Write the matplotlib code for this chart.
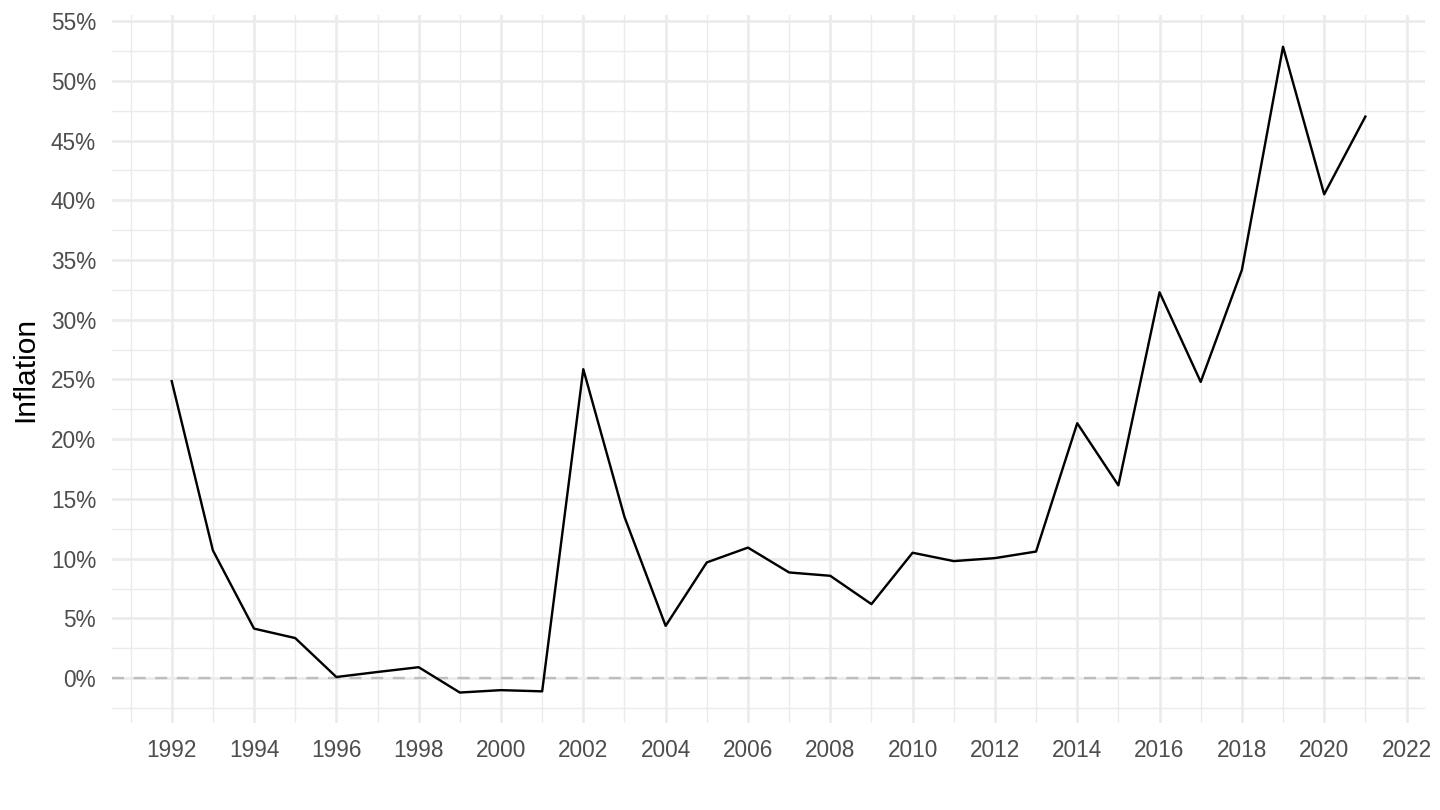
import matplotlib
matplotlib.use("Agg")
import matplotlib.pyplot as plt
from matplotlib.ticker import MultipleLocator, FuncFormatter

# annual inflation, percent
years = [1992, 1993, 1994, 1995, 1996, 1997, 1998, 1999, 2000, 2001,
         2002, 2003, 2004, 2005, 2006, 2007, 2008, 2009, 2010, 2011,
         2012, 2013, 2014, 2015, 2016, 2017, 2018, 2019, 2020, 2021]
inflation = [24.86, 10.7, 4.15, 3.36, 0.1, 0.52, 0.92, -1.2, -1.0, -1.1,
             25.86, 13.5, 4.38, 9.69, 10.93, 8.85, 8.57, 6.2, 10.5, 9.8,
             10.05, 10.6, 21.34, 16.14, 32.3, 24.8, 34.16, 52.85, 40.5, 47.0]

plt.rcParams['font.family'] = ['Liberation Sans', 'DejaVu Sans']

fig = plt.figure(figsize=(10, 5.625), dpi=144)
ax = fig.add_axes([0.0778, 0.1074, 0.9118, 0.874])

grid_col = '#EBEBEB'
ax.xaxis.set_major_locator(MultipleLocator(2))
ax.xaxis.set_minor_locator(MultipleLocator(1))
ax.yaxis.set_major_locator(MultipleLocator(5))
ax.yaxis.set_minor_locator(MultipleLocator(2.5))
ax.grid(which='major', color=grid_col, linewidth=1.3)
ax.grid(which='minor', color=grid_col, linewidth=0.7)
ax.set_axisbelow(True)

ax.axhline(0, color='#BEBEBE', linewidth=1.2, linestyle=(0, (5, 4)), zorder=1.5)
ax.plot(years, inflation, color='black', linewidth=1.2, zorder=3)

ax.set_xlim(1990.55, 2022.45)
ax.set_ylim(-3.75, 55.5)
ax.yaxis.set_major_formatter(FuncFormatter(lambda v, p: f"{v:.0f}%"))

for s in ax.spines.values():
    s.set_visible(False)
ax.tick_params(which='both', length=0, labelsize=11.3, labelcolor='#4D4D4D')
ax.tick_params(axis='x', pad=8)
ax.tick_params(axis='y', pad=8)

ax.set_xlabel('')
ax.set_ylabel('Inflation', fontsize=15, color='black', labelpad=6)

fig.savefig('out.png', dpi=144)
